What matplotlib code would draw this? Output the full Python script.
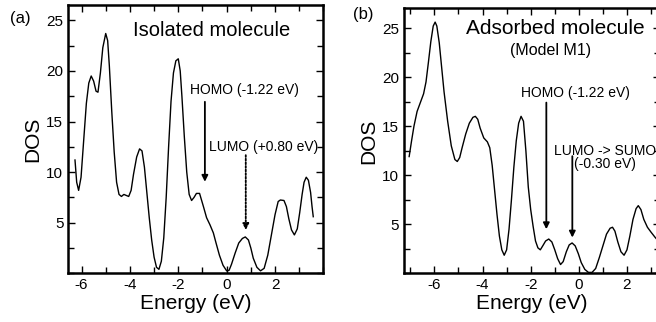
import numpy as np
import matplotlib.pyplot as plt
from matplotlib.ticker import MultipleLocator

plt.rcParams['font.family'] = ['Liberation Sans', 'DejaVu Sans']
plt.rcParams['axes.unicode_minus'] = False

# (a) isolated molecule
energy_a = [-6.27, -6.2, -6.12, -6.02, -5.9, -5.8, -5.7, -5.6, -5.5, -5.4, -5.32,
            -5.22, -5.12, -5.0, -4.92, -4.85, -4.75, -4.65, -4.55, -4.45, -4.35,
            -4.25, -4.15, -4.05, -3.95, -3.85, -3.72, -3.6, -3.5, -3.4, -3.3, -3.2,
            -3.1, -3.0, -2.9, -2.8, -2.7, -2.6, -2.5, -2.4, -2.3, -2.2, -2.1, -2.0,
            -1.92, -1.85, -1.75, -1.65, -1.55, -1.45, -1.35, -1.25, -1.12, -0.96,
            -0.83, -0.69, -0.55, -0.45, -0.3, -0.15, 0.0, 0.1, 0.2, 0.35, 0.5,
            0.65, 0.77, 0.9, 1.0, 1.1, 1.25, 1.4, 1.55, 1.7, 1.85, 2.0, 2.13, 2.22,
            2.37, 2.47, 2.57, 2.68, 2.8, 2.92, 3.02, 3.12, 3.2, 3.29, 3.38, 3.47,
            3.53, 3.58]
dos_a = [11.2, 9.0, 8.2, 9.5, 13.5, 16.8, 18.8, 19.5, 19.0, 18.0, 17.9,
         19.8, 22.3, 23.7, 23.0, 20.5, 16.0, 12.0, 9.0, 7.8, 7.6,
         7.8, 7.7, 7.6, 8.2, 9.8, 11.5, 12.3, 12.1, 10.5, 8.0, 5.5,
         3.3, 1.6, 0.6, 0.4, 1.2, 3.5, 7.5, 12.5, 17.0, 19.8, 21.0, 21.2,
         20.0, 17.5, 13.5, 10.0, 7.8, 7.2, 7.5, 7.9, 7.9, 6.6,
         5.5, 4.8, 4.0, 3.1, 1.8, 0.8, 0.25, 0.3, 0.9, 2.0, 3.0,
         3.45, 3.6, 3.3, 2.5, 1.5, 0.6, 0.25, 0.5, 1.8, 3.8, 5.8, 7.1, 7.25,
         7.2, 6.6, 5.4, 4.3, 3.8, 4.4, 6.0, 7.8, 9.0, 9.5, 9.2, 8.0,
         6.6, 5.6]

# (b) adsorbed molecule (Model M1)
energy_b = [-7.05, -6.95, -6.85, -6.72, -6.6, -6.45, -6.35, -6.25, -6.15, -6.05,
            -5.97, -5.9, -5.8, -5.7, -5.6, -5.45, -5.3, -5.15, -5.05, -4.95, -4.85,
            -4.7, -4.55, -4.4, -4.3, -4.2, -4.1, -3.95, -3.8, -3.7, -3.6, -3.5,
            -3.4, -3.3, -3.2, -3.1, -3.0, -2.9, -2.8, -2.7, -2.6, -2.5, -2.4, -2.3,
            -2.2, -2.1, -2.0, -1.9, -1.8, -1.7, -1.6, -1.5, -1.38, -1.25, -1.12,
            -1.0, -0.88, -0.76, -0.65, -0.52, -0.4, -0.28, -0.15, -0.02, 0.1, 0.25,
            0.4, 0.55, 0.7, 0.85, 1.0, 1.15, 1.3, 1.4, 1.5, 1.62, 1.75, 1.88, 2.0,
            2.12, 2.25, 2.38, 2.47, 2.58, 2.7, 2.85, 3.0, 3.16, 3.3]
dos_b = [11.9, 13.5, 15.0, 16.5, 17.3, 18.3, 19.5, 21.5, 23.6, 25.2,
         25.6, 25.2, 23.5, 21.0, 18.5, 15.5, 13.0, 11.6, 11.4, 11.8, 12.8,
         14.2, 15.3, 15.9, 16.0, 15.7, 14.8, 13.8, 13.4, 12.8, 11.0, 8.5,
         6.0, 3.8, 2.4, 1.85, 2.4, 4.5, 7.5, 10.8, 13.5, 15.3, 16.0, 15.5,
         12.5, 8.8, 6.5, 4.8, 3.3, 2.6, 2.4, 2.8, 3.3, 3.5, 3.2,
         2.4, 1.5, 0.9, 1.2, 2.2, 2.9, 3.1, 2.8, 2.0, 1.1, 0.4,
         0.1, 0.1, 0.5, 1.6, 2.8, 4.0, 4.6, 4.7, 4.3, 3.2, 2.2, 1.85, 2.4,
         3.8, 5.5, 6.6, 6.9, 6.5, 5.5, 4.7, 4.2, 3.7, 3.3]

x_ticks = [-6, -4, -2, 0, 2]
y_ticks = [5, 10, 15, 20, 25]

fig = plt.figure(figsize=(6.56, 3.22), dpi=100)
ax_a = fig.add_axes([0.104, 0.151, 0.389, 0.833])
ax_b = fig.add_axes([0.616, 0.151, 0.39, 0.823])


def style(ax, xlim, ylim):
    ax.set_xlim(*xlim)
    ax.set_ylim(*ylim)
    ax.set_xticks(x_ticks)
    ax.xaxis.set_minor_locator(MultipleLocator(1))
    ax.set_yticks(y_ticks)
    ax.yaxis.set_minor_locator(MultipleLocator(2.5))
    ax.tick_params(which='both', direction='in', top=True, right=True, width=1)
    ax.tick_params(which='major', length=5, labelsize=11)
    ax.tick_params(which='minor', length=4)
    for s in ax.spines.values():
        s.set_linewidth(1.8)
    ax.set_xlabel('Energy (eV)', fontsize=15, labelpad=1)
    ax.set_ylabel('DOS', fontsize=15, labelpad=3)


arrow = dict(arrowstyle='-|>', color='black', lw=1.3, mutation_scale=9, shrinkA=0, shrinkB=0)

# panel (a)
ax_a.plot(energy_a, dos_a, color='black', lw=1.0)
style(ax_a, (-6.55, 4.0), (0, 26.5))
ax_a.text(-0.62, 24.0, 'Isolated molecule', fontsize=14.5, ha='center', va='center')
ax_a.text(-1.52, 18.1, 'HOMO (-1.22 eV)', fontsize=10, ha='left', va='center')
ax_a.annotate('', xy=(-0.9, 9.05), xytext=(-0.9, 16.95), arrowprops=arrow)
ax_a.text(1.54, 12.5, 'LUMO (+0.80 eV)', fontsize=10, ha='center', va='center')
ax_a.annotate('', xy=(0.79, 4.28), xytext=(0.79, 11.68),
              arrowprops=dict(arrow, linestyle=(0, (1, 1))))
fig.text(10 / 656, 1 - 19 / 322, '(a)', fontsize=12, ha='left', va='center')

# panel (b)
ax_b.plot(energy_b, dos_b, color='black', lw=1.0)
style(ax_b, (-7.26, 3.37), (0, 27.0))
ax_b.text(-0.97, 24.9, 'Adsorbed molecule', fontsize=15, ha='center', va='center')
ax_b.text(-1.16, 22.7, '(Model M1)', fontsize=11.5, ha='center', va='center')
ax_b.text(-0.14, 18.4, 'HOMO (-1.22 eV)', fontsize=10, ha='center', va='center')
ax_b.annotate('', xy=(-1.35, 4.5), xytext=(-1.35, 17.4), arrowprops=arrow)
ax_b.text(1.08, 12.45, 'LUMO -> SUMO', fontsize=10, ha='center', va='center')
ax_b.text(1.08, 11.1, '(-0.30 eV)', fontsize=10, ha='center', va='center')
ax_b.annotate('', xy=(-0.27, 3.65), xytext=(-0.27, 11.94), arrowprops=arrow)
fig.text(353 / 656, 1 - 15 / 322, '(b)', fontsize=12, ha='left', va='center')

fig.savefig('out.png', dpi=100)
